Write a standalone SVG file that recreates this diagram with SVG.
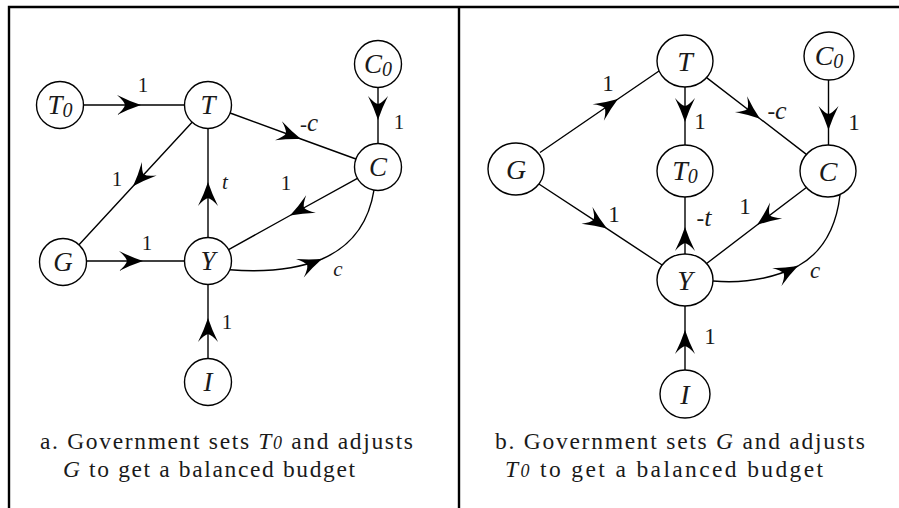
<svg xmlns="http://www.w3.org/2000/svg" width="899" height="508" viewBox="0 0 899 508">
<style>
.frame{fill:none;stroke:#000;stroke-width:2.4}
.node{fill:#fff;stroke:#000;stroke-width:1.4}
.edge{fill:none;stroke:#000;stroke-width:1.4;marker-mid:url(#arr)}
.nl{font-family:"Liberation Serif",serif;font-style:italic;font-size:27px;text-anchor:middle;fill:#1a1a1a}
.nr{font-family:"Liberation Serif",serif;font-style:italic;font-size:28px;text-anchor:middle;fill:#1a1a1a}
.sub{font-size:20px}
.w{font-family:"Liberation Serif",serif;font-size:21px;text-anchor:middle;fill:#1a1a1a}
.wr{font-family:"Liberation Serif",serif;font-size:23px;text-anchor:middle;fill:#1a1a1a}
.i{font-style:italic}
.cap{font-family:"Liberation Serif",serif;font-size:23.5px;fill:#1a1a1a}
</style>
<defs>
<marker id="arr" viewBox="-26 -12 28 24" markerWidth="28" markerHeight="24" refX="0" refY="0" orient="auto" markerUnits="userSpaceOnUse">
<path d="M0,0 Q-12,-4 -24,-10 Q-17,-4 -16,0 Q-17,4 -24,10 Q-12,4 0,0Z" fill="#000"/>
</marker>
</defs>
<path class="frame" d="M9,508 V7 H899 M459,7 V508"/>
<g id="connectors">
<path class="edge" d="M83.5,105 L141,105 L184.5,105"/>
<path class="edge" d="M192.1,122.3 L133,186.3 L79,244.7"/>
<path class="edge" d="M230.1,113 L301,139 L355.9,159"/>
<path class="edge" d="M378,87.5 L378,120 L378,143.5"/>
<path class="edge" d="M208,237.5 L208,182 L208,128.5"/>
<path class="edge" d="M357.4,178.4 L290,215.5 L228.6,249.6"/>
<path class="edge" d="M86.5,261 L143,261 L184.5,261"/>
<path class="edge" d="M208,358.5 L208,318 L208,284.5"/>
<path class="edge" d="M229.8,269.8 Q285,274 322,259 Q366,240 374,190"/>
<path class="edge" d="M540,152.5 L618,99 L659,71"/>
<path class="edge" d="M538.9,184 L607,228.6 L662.1,265"/>
<path class="edge" d="M685,87 L685,122 L685,145"/>
<path class="edge" d="M706.6,77.6 L760,118.7 L806.4,154.4"/>
<path class="edge" d="M828.5,80 L828.5,130 L828.5,145"/>
<path class="edge" d="M685,254 L685,227 L685,197"/>
<path class="edge" d="M806.4,187.5 L757,225 L706.6,263.5"/>
<path class="edge" d="M685,370 L685,330 L685,306"/>
<path class="edge" d="M713,281 Q760,285 798,266 Q834,246 840,195"/>
</g>
<g id="edge-labels">
<text class="w" x="143" y="92">1</text>
<text class="w" x="117" y="186">1</text>
<text class="w" x="309" y="131"><tspan>-</tspan><tspan class="i" font-size="25">c</tspan></text>
<text class="w" x="399" y="129">1</text>
<text class="w i" x="225" y="189" font-size="25">t</text>
<text class="w" x="286" y="190">1</text>
<text class="w" x="147" y="250">1</text>
<text class="w" x="227" y="329">1</text>
<text class="w i" x="338" y="276" font-size="25">c</text>
<text class="wr" x="608" y="91">1</text>
<text class="wr" x="614" y="222">1</text>
<text class="wr" x="700" y="129">1</text>
<text class="wr" x="777" y="119"><tspan>-</tspan><tspan class="i" font-size="26">c</tspan></text>
<text class="wr" x="854" y="130">1</text>
<text class="wr" x="704" y="226"><tspan>-</tspan><tspan class="i" font-size="26">t</tspan></text>
<text class="wr" x="745" y="214">1</text>
<text class="wr" x="710" y="344">1</text>
<text class="wr i" x="815" y="278" font-size="26">c</text>
</g>
<g id="a-T0"><circle class="node" cx="60" cy="105" r="23.5"/><text class="nl" x="60" y="114">T<tspan class="sub" dy="3">0</tspan></text></g>
<g id="a-T"><circle class="node" cx="208" cy="105" r="23.5"/><text class="nl" x="208" y="114">T</text></g>
<g id="a-C0"><circle class="node" cx="378" cy="64" r="23.5"/><text class="nl" x="378" y="73">C<tspan class="sub" dy="3">0</tspan></text></g>
<g id="a-C"><circle class="node" cx="378" cy="167" r="23.5"/><text class="nl" x="378" y="176">C</text></g>
<g id="a-G"><circle class="node" cx="63" cy="262" r="23.5"/><text class="nl" x="63" y="271">G</text></g>
<g id="a-Y"><circle class="node" cx="208" cy="261" r="23.5"/><text class="nl" x="208" y="270">Y</text></g>
<g id="a-I"><circle class="node" cx="208" cy="382" r="23.5"/><text class="nl" x="208" y="391">I</text></g>
<g id="b-G"><ellipse class="node" cx="516" cy="169" rx="28" ry="26"/><text class="nr" x="516" y="179">G</text></g>
<g id="b-T"><ellipse class="node" cx="685" cy="61" rx="28" ry="26"/><text class="nr" x="685" y="71">T</text></g>
<g id="b-T0"><ellipse class="node" cx="685" cy="171" rx="28" ry="26"/><text class="nr" x="685" y="180">T<tspan class="sub" font-size="21" dy="3">0</tspan></text></g>
<g id="b-C0"><ellipse class="node" cx="829" cy="56" rx="25" ry="24"/><text class="nr" x="829" y="65">C<tspan class="sub" font-size="21" dy="3">0</tspan></text></g>
<g id="b-C"><ellipse class="node" cx="828" cy="171" rx="28" ry="26"/><text class="nr" x="828" y="181">C</text></g>
<g id="b-Y"><ellipse class="node" cx="685" cy="280" rx="28" ry="26"/><text class="nr" x="685" y="290">Y</text></g>
<g id="b-I"><ellipse class="node" cx="685" cy="394" rx="25" ry="24"/><text class="nr" x="685" y="404">I</text></g>
<g id="captions">
<text class="cap" x="40" y="449" textLength="373" lengthAdjust="spacing">a. Government sets <tspan class="i">T</tspan><tspan class="i" font-size="18">0</tspan> and adjusts</text>
<text class="cap" x="63" y="477" textLength="292" lengthAdjust="spacing"><tspan class="i">G</tspan> to get a balanced budget</text>
<text class="cap" x="495" y="449" textLength="370" lengthAdjust="spacing">b. Government sets <tspan class="i">G</tspan> and adjusts</text>
<text class="cap" x="505" y="477" textLength="318" lengthAdjust="spacing"><tspan class="i">T</tspan><tspan class="i" font-size="18">0</tspan> to get a balanced budget</text>
</g>
</svg>
